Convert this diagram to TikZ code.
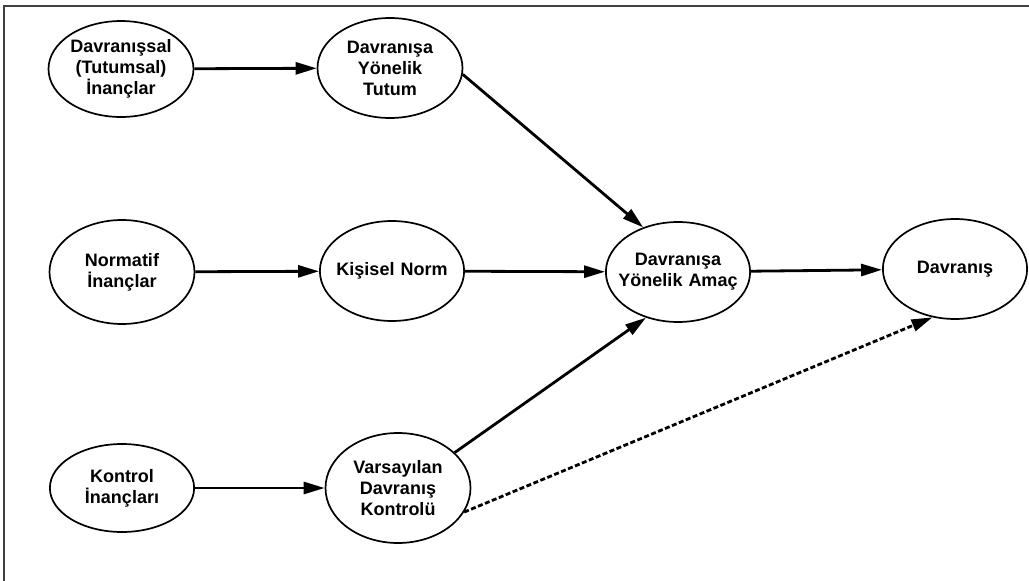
\documentclass[tikz,border=0pt]{standalone}
\usepackage{fontspec}
\setmainfont{Liberation Sans}
\usetikzlibrary{shapes.geometric,arrows.meta}

\begin{document}
\begin{tikzpicture}[x=1pt, y=-1pt,
			oval/.style={ellipse, draw, line width=1.7pt, minimum width=145pt, minimum height=100pt,
				text width=124pt, align=center, inner xsep=-11pt, inner ysep=0pt,
				font=\fontsize{18}{21}\selectfont\bfseries},
			ok/.style={line width=2.8pt, -{Triangle[length=21pt,width=12pt]}},
			kesik/.style={ok, dash pattern=on 5pt off 2.5pt}]
			\useasboundingbox (0,0) rectangle (1029,581);
			\draw[line width=1.4pt, black!75] (1029,6) -- (4,6) -- (4,581);
			\node[oval, minimum height=96pt] (tutumsal) at (121,69) {Davranışsal\\(Tutumsal)\\İnançlar};
			\node[oval] (tutum) at (390,68) {Davranışa\\Yönelik\\Tutum};
			\node[oval, minimum height=104pt] (normatif) at (122,272) {Normatif\\İnançlar};
			\node[oval, minimum width=140pt] (norm) at (392,271) {Kişisel Norm};
			\node[oval, minimum width=142pt] (amac) at (678,272) {Davranışa\\Yönelik Amaç};
			\node[oval, minimum width=142pt] (davranis) at (955,269) {Davranış};
			\node[oval, minimum height=88pt, minimum width=142pt] (kontrol) at (122,488) {Kontrol\\İnançları};
			\node[oval, minimum height=110pt] (algi) at (398,488) {Varsayılan\\Davranış\\Kontrolü};
			\draw[ok] (tutumsal) -- (tutum);
			\draw[ok] (normatif) -- (norm);
			\draw[ok] (norm) -- (amac);
			\draw[ok] (amac) -- (davranis);
			\draw[ok] (kontrol) -- (algi);
			\draw[ok] (tutum.-5) -- (amac.128);
			\draw[ok] (algi.32) -- (amac.-125);
			\draw[kesik] (algi.-20) -- (davranis.-115);
		\end{tikzpicture}
\end{document}
